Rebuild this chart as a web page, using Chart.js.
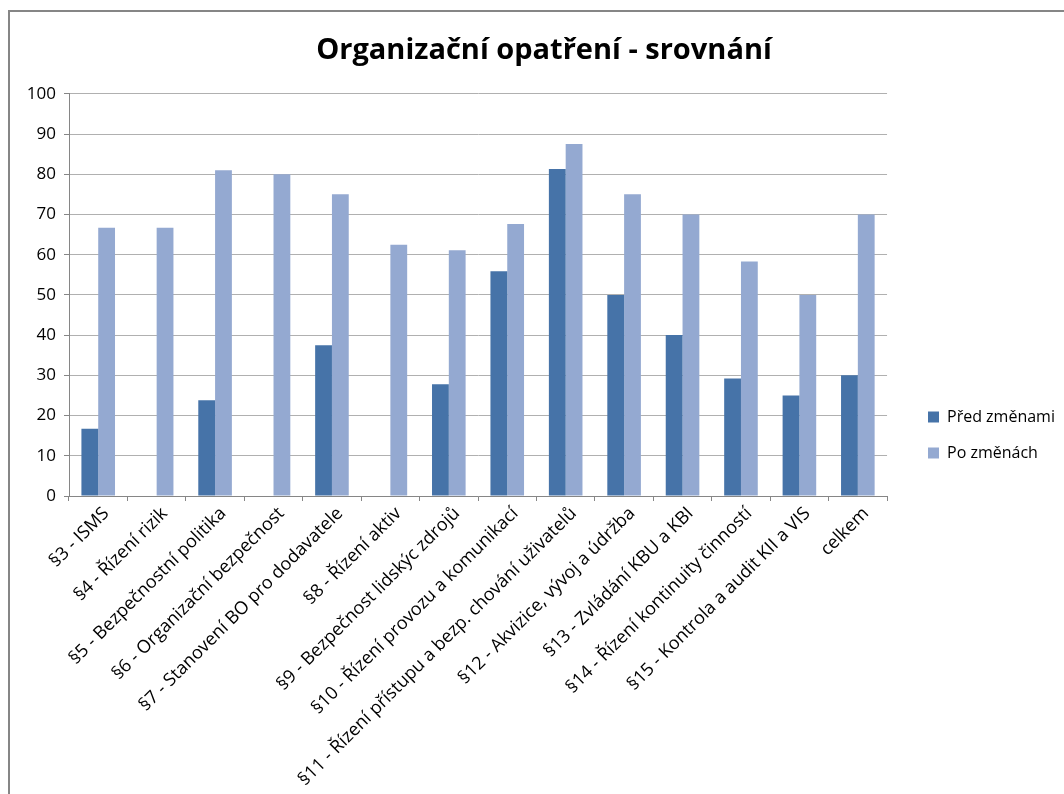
<!DOCTYPE html>
<html>
<head>
<meta charset="utf-8">
<script src="https://cdn.jsdelivr.net/npm/chart.js@4.4.1/dist/chart.umd.min.js"></script>
<style>
html,body{margin:0;padding:0;background:#fff;}
#wrap{position:absolute;left:8px;top:10px;width:1062px;height:790px;border-left:2px solid #868686;border-top:2px solid #868686;overflow:hidden;}
#c{display:block;}
</style>
</head>
<body>
<div id="wrap"><canvas id="c" width="1054" height="782"></canvas></div>
<script>
const chartTitle = "Organizační opatření - srovnání";
const categories = [
  "§3 - ISMS",
  "§4 - Řízení rizik",
  "§5 - Bezpečnostní politika",
  "§6 - Organizační bezpečnost",
  "§7 - Stanovení BO pro dodavatele",
  "§8 - Řízení aktiv",
  "§9 - Bezpečnost lidskýc zdrojů",
  "§10 - Řízení provozu a komunikací",
  "§11 - Řízení přístupu a bezp. chování uživatelů",
  "§12 - Akvizice, vývoj a údržba",
  "§13 - Zvládání KBU a KBI",
  "§14 - Řízení kontinuity činností",
  "§15 - Kontrola a audit KII a VIS",
  "celkem"
];
const seriesNames = ["Před změnami", "Po změnách"];
const beforeValues = [16.7, 0, 23.8, 0, 37.5, 0, 27.8, 55.9, 81.3, 50, 40, 29.2, 25, 30];
const afterValues  = [66.7, 66.7, 81, 80, 75, 62.5, 61.1, 67.6, 87.5, 75, 70, 58.3, 50, 70];
const yTicks = [0, 10, 20, 30, 40, 50, 60, 70, 80, 90, 100];

const FONT = "'Open Sans', 'DejaVu Sans', sans-serif";
const AXIS = "#868686";
const GRID = "#B0B0B0";

const layoutShift = {
  id: 'layoutShift',
  afterLayout(chart) {
    const lg = chart.legend;
    if (lg) {
      const dx = 918 - (lg.left + lg.options.labels.padding);
      lg.left += dx; lg.right += dx;
      const dy = 377 - lg.top;
      lg.top += dy; lg.bottom += dy;
    }
    const tb = chart.titleBlock;
    if (tb) { tb.left += 17; tb.right += 17; }
  }
};

new Chart(document.getElementById('c'), {
  type: 'bar',
  data: {
    labels: categories,
    datasets: [
      { label: seriesNames[0], data: beforeValues, backgroundColor: '#4673A8', borderWidth: 0 },
      { label: seriesNames[1], data: afterValues, backgroundColor: '#94A9D1', borderWidth: 0 }
    ]
  },
  plugins: [layoutShift],
  options: {
    responsive: false,
    animation: false,
    devicePixelRatio: 1,
    layout: { padding: { left: 0, right: 20, top: 0, bottom: 0 } },
    datasets: { bar: { categoryPercentage: 0.575, barPercentage: 1.0 } },
    plugins: {
      title: {
        display: true,
        text: chartTitle,
        color: '#000',
        font: { family: FONT, size: 29, weight: 'bold' },
        padding: { top: 21, bottom: 26 }
      },
      legend: {
        display: true,
        position: 'right',
        align: 'start',
        labels: {
          boxWidth: 11, boxHeight: 11,
          padding: 20,
          color: '#000',
          font: { family: FONT, size: 16 }
        }
      },
      tooltip: { enabled: false }
    },
    scales: {
      x: {
        offset: true,
        border: { display: true, color: AXIS, width: 1 },
        grid: { display: true, drawOnChartArea: false, drawTicks: true, tickLength: 5, color: AXIS, offset: true },
        ticks: {
          color: '#000', autoSkip: false, maxRotation: 45, minRotation: 45, padding: 2, labelOffset: 8,
          font: { family: FONT, size: 18 }
        },
        afterFit(scale) { scale.height = 298; }
      },
      y: {
        min: 0, max: 100,
        afterBuildTicks(scale) { scale.ticks = yTicks.map(v => ({ value: v })); },
        border: { display: true, color: AXIS, width: 1 },
        grid: { display: true, color: GRID, lineWidth: 1, drawTicks: true, tickLength: 5, tickColor: AXIS },
        ticks: { color: '#000', padding: 8, font: { family: FONT, size: 17 } },
        afterFit(scale) { scale.width = 59; }
      }
    }
  }
});
</script>
</body>
</html>
